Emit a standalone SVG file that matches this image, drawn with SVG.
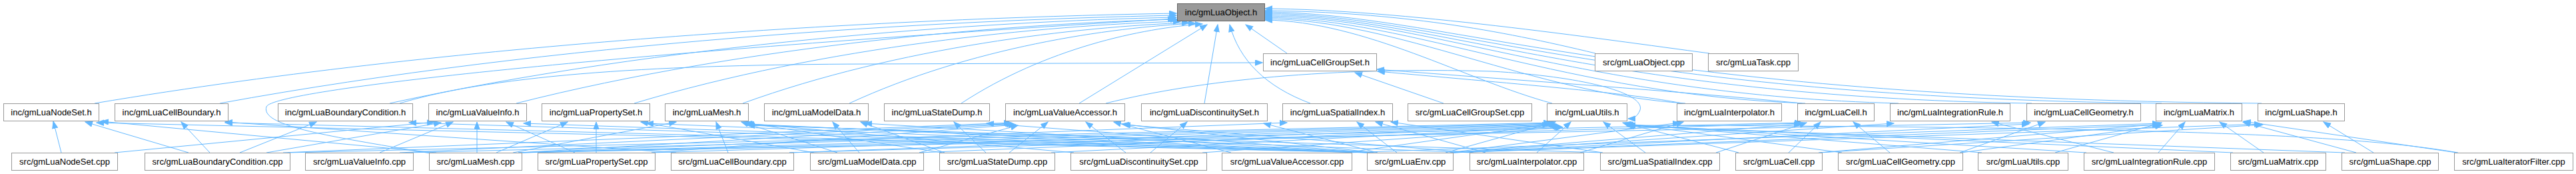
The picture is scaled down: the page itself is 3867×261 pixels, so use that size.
<svg xmlns="http://www.w3.org/2000/svg" width="3867" height="261" viewBox="0 0 3867 261">
<defs>
<marker id="a" markerUnits="userSpaceOnUse" markerWidth="12" markerHeight="10" refX="11" refY="4.5" orient="auto"><path d="M0.5,0.5 L11,4.5 L0.5,8.5 z" fill="#63b8ff" stroke="#63b8ff"/></marker>
</defs>
<style>
.e{fill:none;stroke:#63b8ff;stroke-width:1;marker-end:url(#a)}
.n rect{fill:#ffffff;stroke:#999999;stroke-width:1}
.r rect{fill:#999999;stroke:#666666;stroke-width:1}
text{font-family:"Liberation Sans",Arial,sans-serif;font-size:13px;text-anchor:middle;fill:#000000}
</style>
<rect width="3867" height="261" fill="#ffffff"/>
<g id="edges">
<path class="e" d="M142,155 C710,60 1360,27 1766,20"/>
<path class="e" d="M330,155 C833,63 1407,30 1766,23"/>
<path class="e" d="M585,155 C998,65 1471,32 1766,26"/>
<path class="e" d="M775,155 C1123,67 1520,35 1768,29"/>
<path class="e" d="M952,155 C1239,69 1567,38 1772,32"/>
<path class="e" d="M1115,155 C1350,70 1618,40 1785,34"/>
<path class="e" d="M1275,155 C1457,71 1665,41 1795,35"/>
<path class="e" d="M1443,155 C1570,72 1715,42 1805,36"/>
<path class="e" d="M1620,155 L1812,37"/>
<path class="e" d="M646,230 C500,205 390,190 400,160 C410,135 900,80 1764,28"/>
<path class="e" d="M1808,155 L1828,37"/>
<path class="e" d="M1967,155 C1900,130 1860,90 1846,37"/>
<path class="e" d="M1932,80 L1870,37"/>
<path class="e" d="M2330,155 C2200,120 2050,32 1899,30"/>
<path class="e" d="M2530,155 C2300,140 2100,30 1899,28"/>
<path class="e" d="M2710,155 C2350,142 2120,28 1899,26"/>
<path class="e" d="M2850,155 C2380,143 2140,26 1899,24"/>
<path class="e" d="M3050,155 C2400,145 2150,24 1899,22"/>
<path class="e" d="M3245,155 C2420,146 2160,22 1899,20"/>
<path class="e" d="M3395,155 C2440,147 2170,20 1899,18"/>
<path class="e" d="M2395,80 C2250,45 2100,18 1899,16"/>
<path class="e" d="M2566,80 C2400,58 2100,14 1899,13"/>
<path class="e" d="M600,155 C750,110 1000,97 1300,96 L1895,94"/>
<path class="e" d="M2167,155 L2034,109"/>
<path class="e" d="M2525,155 C2450,140 2300,128 2068,107"/>
<path class="e" d="M2705,155 C2500,135 2300,122 2067,104"/>
<path class="e" d="M1660,155 C1800,120 2000,100 2240,107 C2380,115 2470,140 2462,165 C2458,175 2452,178 2444,178"/>
<path class="e" d="M92,229 L80,182"/>
<path class="e" d="M172,229 L652,183"/>
<path class="e" d="M283,229 L128,183"/>
<path class="e" d="M315,229 L272,183"/>
<path class="e" d="M360,229 L475,183"/>
<path class="e" d="M400,229 L662,184"/>
<path class="e" d="M425,229 L1518,184"/>
<path class="e" d="M432,229 L2328,184"/>
<path class="e" d="M570,229 L680,183"/>
<path class="e" d="M612,229 L2332,185"/>
<path class="e" d="M600,229 L1520,185"/>
<path class="e" d="M716,229 L716,183"/>
<path class="e" d="M745,229 L852,183"/>
<path class="e" d="M770,229 L1015,183"/>
<path class="e" d="M655,229 L152,182"/>
<path class="e" d="M778,229 L1932,184"/>
<path class="e" d="M778,229 L1522,186"/>
<path class="e" d="M780,229 L2336,186"/>
<path class="e" d="M780,229 L2705,184"/>
<path class="e" d="M780,229 L3048,184"/>
<path class="e" d="M895,229 L895,183"/>
<path class="e" d="M863,229 L760,183"/>
<path class="e" d="M978,229 L1525,187"/>
<path class="e" d="M978,229 L2338,187"/>
<path class="e" d="M1093,229 L1075,183"/>
<path class="e" d="M1015,229 L338,183"/>
<path class="e" d="M1185,229 L2340,188"/>
<path class="e" d="M1185,229 L2708,185"/>
<path class="e" d="M1290,229 L1250,183"/>
<path class="e" d="M1257,229 L1113,183"/>
<path class="e" d="M1222,229 L962,183"/>
<path class="e" d="M1380,229 L1528,188"/>
<path class="e" d="M1380,229 L2342,189"/>
<path class="e" d="M1480,229 L1432,183"/>
<path class="e" d="M1515,229 L1573,183"/>
<path class="e" d="M1418,229 L1292,183"/>
<path class="e" d="M1415,229 L1118,184"/>
<path class="e" d="M1578,229 L2344,190"/>
<path class="e" d="M1727,229 L1782,183"/>
<path class="e" d="M1690,229 L1630,183"/>
<path class="e" d="M1612,229 L1119,185"/>
<path class="e" d="M1805,229 L2346,191"/>
<path class="e" d="M1848,229 L1672,183"/>
<path class="e" d="M2020,229 L2326,186"/>
<path class="e" d="M2025,229 L3242,185"/>
<path class="e" d="M2097,229 L2037,183"/>
<path class="e" d="M2170,229 L2335,183"/>
<path class="e" d="M2056,229 L145,184"/>
<path class="e" d="M2056,229 L338,184"/>
<path class="e" d="M2057,229 L614,184"/>
<path class="e" d="M2058,229 L786,185"/>
<path class="e" d="M2059,229 L970,185"/>
<path class="e" d="M2060,229 L1121,186"/>
<path class="e" d="M2061,229 L1298,185"/>
<path class="e" d="M2062,229 L1481,185"/>
<path class="e" d="M2064,229 L1684,186"/>
<path class="e" d="M2068,229 L1897,185"/>
<path class="e" d="M2176,229 L2522,184"/>
<path class="e" d="M2178,229 L2704,186"/>
<path class="e" d="M2179,229 L2843,185"/>
<path class="e" d="M2180,229 L3046,186"/>
<path class="e" d="M2180,229 L3242,187"/>
<path class="e" d="M2181,229 L3395,186"/>
<path class="e" d="M2307,229 L2358,183"/>
<path class="e" d="M2372,229 L2527,183"/>
<path class="e" d="M2230,229 L2065,183"/>
<path class="e" d="M2210,229 L1121,187"/>
<path class="e" d="M2212,229 L1686,187"/>
<path class="e" d="M2470,229 L2407,183"/>
<path class="e" d="M2406,229 L2088,183"/>
<path class="e" d="M2404,229 L1122,188"/>
<path class="e" d="M2576,229 L2712,184"/>
<path class="e" d="M2685,229 L2733,183"/>
<path class="e" d="M2610,229 L2436,184"/>
<path class="e" d="M2730,229 L3244,186"/>
<path class="e" d="M2732,229 L3397,187"/>
<path class="e" d="M2837,229 L2782,183"/>
<path class="e" d="M2942,229 L3070,183"/>
<path class="e" d="M2765,229 L2438,185"/>
<path class="e" d="M2944,229 L3246,188"/>
<path class="e" d="M2975,229 L2440,186"/>
<path class="e" d="M3085,229 L3245,184"/>
<path class="e" d="M3173,229 L2990,183"/>
<path class="e" d="M3240,229 L3280,183"/>
<path class="e" d="M3132,229 L2441,187"/>
<path class="e" d="M3398,229 L3332,183"/>
<path class="e" d="M3352,229 L2442,188"/>
<path class="e" d="M3563,229 L3488,183"/>
<path class="e" d="M3537,229 L3367,183"/>
<path class="e" d="M3520,229 L2442,189"/>
<path class="e" d="M3688,229 L3368,182"/>
<path class="e" d="M3690,229 C3550,205 3300,190 2444,188"/>
</g>
<g id="n_root" class="r"><rect x="1767.5" y="5.5" width="131" height="26"/><text x="1833" y="23">inc/gmLuaObject.h</text></g>
<g id="n_cgs_h" class="n"><rect x="1896.5" y="80.5" width="170" height="26"/><text x="1981.5" y="98">inc/gmLuaCellGroupSet.h</text></g>
<g id="n_obj_cpp" class="n"><rect x="2394.5" y="80.5" width="146" height="26"/><text x="2467.5" y="98">src/gmLuaObject.cpp</text></g>
<g id="n_task_cpp" class="n"><rect x="2564.5" y="80.5" width="135" height="26"/><text x="2632" y="98">src/gmLuaTask.cpp</text></g>
<g id="n_ns_h" class="n"><rect x="5.5" y="155.5" width="143" height="26"/><text x="77" y="173">inc/gmLuaNodeSet.h</text></g>
<g id="n_cb_h" class="n"><rect x="172.5" y="155.5" width="170" height="26"/><text x="257.5" y="173">inc/gmLuaCellBoundary.h</text></g>
<g id="n_bc_h" class="n"><rect x="417.5" y="155.5" width="202" height="26"/><text x="518.5" y="173">inc/gmLuaBoundaryCondition.h</text></g>
<g id="n_vi_h" class="n"><rect x="643.5" y="155.5" width="147" height="26"/><text x="717" y="173">inc/gmLuaValueInfo.h</text></g>
<g id="n_ps_h" class="n"><rect x="813.5" y="155.5" width="162" height="26"/><text x="894.5" y="173">inc/gmLuaPropertySet.h</text></g>
<g id="n_me_h" class="n"><rect x="998.5" y="155.5" width="125" height="26"/><text x="1061" y="173">inc/gmLuaMesh.h</text></g>
<g id="n_md_h" class="n"><rect x="1147.5" y="155.5" width="156" height="26"/><text x="1225.5" y="173">inc/gmLuaModelData.h</text></g>
<g id="n_sd_h" class="n"><rect x="1327.5" y="155.5" width="158" height="26"/><text x="1406.5" y="173">inc/gmLuaStateDump.h</text></g>
<g id="n_va_h" class="n"><rect x="1509.5" y="155.5" width="179" height="26"/><text x="1599" y="173">inc/gmLuaValueAccessor.h</text></g>
<g id="n_ds_h" class="n"><rect x="1713.5" y="155.5" width="189" height="26"/><text x="1808" y="173">inc/gmLuaDiscontinuitySet.h</text></g>
<g id="n_si_h" class="n"><rect x="1925.5" y="155.5" width="165" height="26"/><text x="2008" y="173">inc/gmLuaSpatialIndex.h</text></g>
<g id="n_cgs_cpp" class="n"><rect x="2113.5" y="155.5" width="186" height="26"/><text x="2206.5" y="173">src/gmLuaCellGroupSet.cpp</text></g>
<g id="n_ut_h" class="n"><rect x="2322.5" y="155.5" width="120" height="26"/><text x="2382.5" y="173">inc/gmLuaUtils.h</text></g>
<g id="n_ip_h" class="n"><rect x="2517.5" y="155.5" width="157" height="26"/><text x="2596" y="173">inc/gmLuaInterpolator.h</text></g>
<g id="n_ce_h" class="n"><rect x="2698.5" y="155.5" width="115" height="26"/><text x="2756" y="173">inc/gmLuaCell.h</text></g>
<g id="n_ir_h" class="n"><rect x="2837.5" y="155.5" width="180" height="26"/><text x="2927.5" y="173">inc/gmLuaIntegrationRule.h</text></g>
<g id="n_cg_h" class="n"><rect x="3042.5" y="155.5" width="171" height="26"/><text x="3128" y="173">inc/gmLuaCellGeometry.h</text></g>
<g id="n_mx_h" class="n"><rect x="3236.5" y="155.5" width="129" height="26"/><text x="3301" y="173">inc/gmLuaMatrix.h</text></g>
<g id="n_sh_h" class="n"><rect x="3389.5" y="155.5" width="130" height="26"/><text x="3454.5" y="173">inc/gmLuaShape.h</text></g>
<g id="n_ns_cpp" class="n"><rect x="17.5" y="229.5" width="159" height="26"/><text x="97" y="247">src/gmLuaNodeSet.cpp</text></g>
<g id="n_bc_cpp" class="n"><rect x="217.5" y="229.5" width="218" height="26"/><text x="326.5" y="247">src/gmLuaBoundaryCondition.cpp</text></g>
<g id="n_vi_cpp" class="n"><rect x="458.5" y="229.5" width="162" height="26"/><text x="539.5" y="247">src/gmLuaValueInfo.cpp</text></g>
<g id="n_me_cpp" class="n"><rect x="644.5" y="229.5" width="139" height="26"/><text x="714" y="247">src/gmLuaMesh.cpp</text></g>
<g id="n_ps_cpp" class="n"><rect x="807.5" y="229.5" width="176" height="26"/><text x="895.5" y="247">src/gmLuaPropertySet.cpp</text></g>
<g id="n_cb_cpp" class="n"><rect x="1007.5" y="229.5" width="184" height="26"/><text x="1099.5" y="247">src/gmLuaCellBoundary.cpp</text></g>
<g id="n_md_cpp" class="n"><rect x="1216.5" y="229.5" width="170" height="26"/><text x="1301.5" y="247">src/gmLuaModelData.cpp</text></g>
<g id="n_sd_cpp" class="n"><rect x="1410.5" y="229.5" width="173" height="26"/><text x="1497" y="247">src/gmLuaStateDump.cpp</text></g>
<g id="n_ds_cpp" class="n"><rect x="1607.5" y="229.5" width="204" height="26"/><text x="1709.5" y="247">src/gmLuaDiscontinuitySet.cpp</text></g>
<g id="n_va_cpp" class="n"><rect x="1834.5" y="229.5" width="195" height="26"/><text x="1932" y="247">src/gmLuaValueAccessor.cpp</text></g>
<g id="n_en_cpp" class="n"><rect x="2052.5" y="229.5" width="129" height="26"/><text x="2117" y="247">src/gmLuaEnv.cpp</text></g>
<g id="n_ip_cpp" class="n"><rect x="2206.5" y="229.5" width="171" height="26"/><text x="2292" y="247">src/gmLuaInterpolator.cpp</text></g>
<g id="n_si_cpp" class="n"><rect x="2402.5" y="229.5" width="179" height="26"/><text x="2492" y="247">src/gmLuaSpatialIndex.cpp</text></g>
<g id="n_ce_cpp" class="n"><rect x="2605.5" y="229.5" width="130" height="26"/><text x="2670.5" y="247">src/gmLuaCell.cpp</text></g>
<g id="n_cg_cpp" class="n"><rect x="2759.5" y="229.5" width="187" height="26"/><text x="2853" y="247">src/gmLuaCellGeometry.cpp</text></g>
<g id="n_ut_cpp" class="n"><rect x="2969.5" y="229.5" width="135" height="26"/><text x="3037" y="247">src/gmLuaUtils.cpp</text></g>
<g id="n_ir_cpp" class="n"><rect x="3128.5" y="229.5" width="196" height="26"/><text x="3226.5" y="247">src/gmLuaIntegrationRule.cpp</text></g>
<g id="n_mx_cpp" class="n"><rect x="3348.5" y="229.5" width="143" height="26"/><text x="3420" y="247">src/gmLuaMatrix.cpp</text></g>
<g id="n_sh_cpp" class="n"><rect x="3515.5" y="229.5" width="145" height="26"/><text x="3588" y="247">src/gmLuaShape.cpp</text></g>
<g id="n_it_cpp" class="n"><rect x="3684.5" y="229.5" width="178" height="26"/><text x="3773.5" y="247">src/gmLuaIteratorFilter.cpp</text></g>
</svg>
